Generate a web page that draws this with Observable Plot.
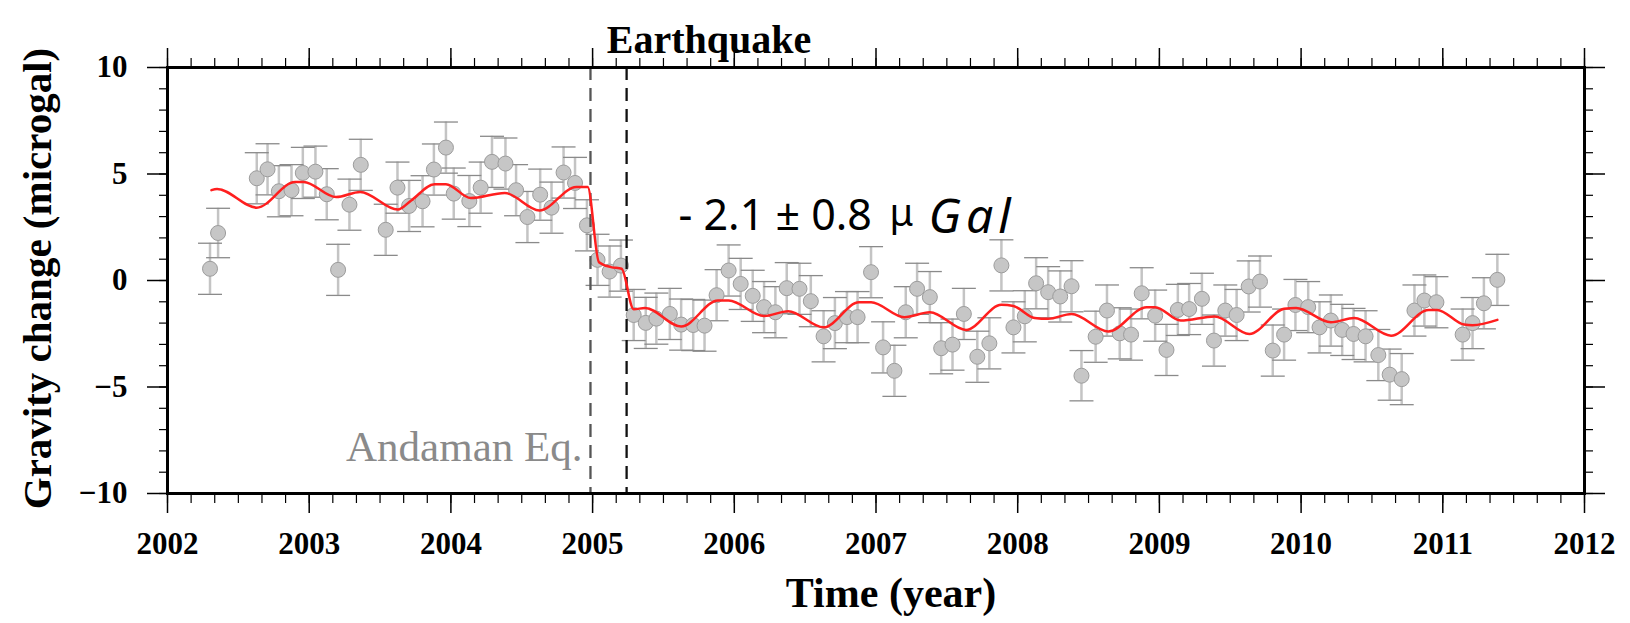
<!DOCTYPE html>
<html><head><meta charset="utf-8">
<script src="https://cdn.jsdelivr.net/npm/d3@7"></script>
<script src="https://cdn.jsdelivr.net/npm/@observablehq/plot@0.6"></script>
<style>body{margin:0;background:#fff}</style>
</head><body><div id="chart"></div>
<script>
const years = [2002.30, 2002.357, 2002.63, 2002.706, 2002.786, 2002.875, 2002.955, 2003.044, 2003.124, 2003.204,
  2003.284, 2003.364, 2003.54, 2003.623, 2003.705, 2003.80, 2003.88, 2003.965, 2004.02, 2004.13,
  2004.21, 2004.29, 2004.385, 2004.46, 2004.54, 2004.63, 2004.71, 2004.795, 2004.876, 2004.96,
  2005.035, 2005.12, 2005.20, 2005.29, 2005.375, 2005.45, 2005.545, 2005.625, 2005.71, 2005.79,
  2005.875, 2005.96, 2006.045, 2006.13, 2006.21, 2006.29, 2006.37, 2006.46, 2006.54, 2006.63,
  2006.71, 2006.795, 2006.87, 2006.965, 2007.05, 2007.13, 2007.21, 2007.29, 2007.38, 2007.46,
  2007.54, 2007.62, 2007.715, 2007.80, 2007.885, 2007.97, 2008.05, 2008.13, 2008.215, 2008.30,
  2008.38, 2008.45, 2008.55, 2008.63, 2008.72, 2008.80, 2008.875, 2008.97, 2009.05, 2009.13,
  2009.21, 2009.30, 2009.385, 2009.465, 2009.545, 2009.63, 2009.71, 2009.80, 2009.88, 2009.96,
  2010.05, 2010.13, 2010.21, 2010.29, 2010.37, 2010.455, 2010.545, 2010.625, 2010.71, 2010.80,
  2010.87, 2010.955, 2011.14, 2011.21, 2011.29, 2011.385];
const gravity = [0.55, 2.23, 4.8, 5.22, 4.19, 4.24, 5.05, 5.11, 4.05, 0.5,
  3.56, 5.43, 2.38, 4.36, 3.5, 3.72, 5.21, 6.24, 4.08, 3.73,
  4.36, 5.57, 5.49, 4.24, 2.98, 4.03, 3.42, 5.07, 4.58, 2.59,
  0.97, 0.42, 0.7, -1.62, -1.99, -1.79, -1.57, -2.07, -2.09, -2.12,
  -0.69, 0.47, -0.16, -0.72, -1.25, -1.49, -0.36, -0.39, -0.97, -2.62,
  -2.0, -1.72, -1.72, 0.39, -3.14, -4.24, -1.49, -0.39, -0.78, -3.18,
  -3.01, -1.57, -3.58, -2.95, 0.71, -2.2, -1.68, -0.13, -0.55, -0.75,
  -0.27, -4.47, -2.64, -1.41, -2.48, -2.54, -0.6, -1.65, -3.26, -1.38,
  -1.34, -0.86, -2.82, -1.41, -1.62, -0.28, -0.05, -3.29, -2.54, -1.15,
  -1.25, -2.2, -1.88, -2.32, -2.51, -2.62, -3.5, -4.42, -4.63, -1.41,
  -0.94, -1.02, -2.54, -2.0, -1.07, 0.03];
const errors = [1.2, 1.16, 1.2, 1.2, 1.2, 1.2, 1.2, 1.2, 1.2, 1.2,
  1.2, 1.2, 1.2, 1.2, 1.2, 1.2, 1.2, 1.2, 1.2, 1.2,
  1.2, 1.2, 1.2, 1.2, 1.2, 1.2, 1.2, 1.2, 1.2, 1.2,
  1.2, 1.2, 1.2, 1.2, 1.2, 1.2, 1.2, 1.2, 1.2, 1.2,
  1.2, 1.2, 1.2, 1.2, 1.2, 1.2, 1.2, 1.2, 1.2, 1.2,
  1.2, 1.2, 1.2, 1.2, 1.2, 1.2, 1.2, 1.2, 1.2, 1.2,
  1.2, 1.2, 1.2, 1.2, 1.2, 1.2, 1.2, 1.2, 1.2, 1.2,
  1.2, 1.18, 1.2, 1.2, 1.2, 1.2, 1.2, 1.2, 1.2, 1.2,
  1.2, 1.2, 1.2, 1.2, 1.2, 1.2, 1.2, 1.2, 1.2, 1.2,
  1.2, 1.2, 1.2, 1.2, 1.2, 1.2, 1.2, 1.2, 1.2, 1.2,
  1.2, 1.2, 1.2, 1.2, 1.2, 1.2];

const modelYears = [2002.31, 2002.35, 2002.63, 2002.90, 2002.96, 2003.19, 2003.36, 2003.625, 2003.72, 2003.885,
  2003.965, 2004.14, 2004.38, 2004.625, 2004.885, 2004.965, 2005.045, 2005.13, 2005.205, 2005.29,
  2005.37, 2005.625, 2005.885, 2005.96, 2006.21, 2006.38, 2006.63, 2006.88, 2006.965, 2007.20,
  2007.38, 2007.635, 2007.885, 2007.97, 2008.12, 2008.215, 2008.38, 2008.64, 2008.91, 2008.97,
  2009.15, 2009.39, 2009.635, 2009.88, 2009.965, 2010.21, 2010.375, 2010.635, 2010.90, 2010.96,
  2011.15, 2011.21, 2011.385];
const modelGravity = [4.24, 4.3, 3.42, 4.63, 4.63, 3.92, 4.16, 3.33, 3.76, 4.52,
  4.52, 3.87, 4.11, 3.29, 4.39, 4.39, 0.86, 0.63, 0.55, -1.35,
  -1.29, -2.16, -0.94, -0.94, -1.67, -1.44, -2.2, -1.02, -1.02, -1.72,
  -1.49, -2.32, -1.14, -1.2, -1.76, -1.8, -1.57, -2.39, -1.25, -1.25,
  -1.88, -1.69, -2.51, -1.33, -1.29, -1.96, -1.76, -2.59, -1.38, -1.38,
  -2.07, -2.1, -1.85];

const andamanYear = 2004.985;
const niasYear = 2005.24;
const yearTicks = [2002, 2003, 2004, 2005, 2006, 2007, 2008, 2009, 2010, 2011, 2012];
const minorYearTicks = d3.range(2002, 2012.0001, 1 / 6);
const gravityTicks = [-10, -5, 0, 5, 10];
const minorGravityTicks = d3.range(-10, 10.001, 1);

const data = years.map((x, i) => ({x, y: gravity[i], e: errors[i]}));
const model = modelYears.map((x, i) => ({x, y: modelGravity[i]}));

const capSymbol = {draw(ctx, size) { const w = Math.sqrt(size / Math.PI); ctx.moveTo(-w, 0); ctx.lineTo(w, 0); }};
const serif = "'Liberation Serif', 'Times New Roman', serif";
const sans = "'Noto Sans', 'DejaVu Sans', sans-serif";

const plot = Plot.plot({
  width: 1630, height: 623,
  marginLeft: 167, marginRight: 46, marginTop: 67, marginBottom: 130,
  x: {domain: [2002, 2012], label: null},
  y: {domain: [-10, 10], label: null},
  style: {fontFamily: serif, background: "white", color: "black"},
  marks: [
    Plot.ruleX(data, {x: "x", y1: d => d.y - d.e, y2: d => d.y + d.e, stroke: "#c4c4c4", strokeWidth: 2.5}),
    Plot.dot(data, {x: "x", y: d => d.y - d.e, symbol: capSymbol, r: 12, stroke: "#8a8a8a", strokeWidth: 1.3}),
    Plot.dot(data, {x: "x", y: d => d.y + d.e, symbol: capSymbol, r: 12, stroke: "#8a8a8a", strokeWidth: 1.3}),
    Plot.dot(data, {x: "x", y: "y", r: 7.5, fill: "#c6c6c6", stroke: "#9c9c9c", strokeWidth: 1}),
    Plot.ruleX([andamanYear], {x: d => d, stroke: "#555", strokeWidth: 2.3, strokeDasharray: "13,8"}),
    Plot.ruleX([niasYear], {x: d => d, stroke: "#111", strokeWidth: 2.3, strokeDasharray: "13,8"}),
    Plot.line(model, {x: "x", y: "y", stroke: "#ff1f1f", strokeWidth: 2.5, curve: "monotone-x"}),
    Plot.frame({stroke: "black", strokeWidth: 3}),
    Plot.axisY(gravityTicks, {anchor: "left", tickSize: 20, tickPadding: 20, fontSize: 31, fontWeight: "bold", strokeWidth: 1.5, label: null}),
    Plot.axisY(minorGravityTicks, {anchor: "left", tickSize: 8, fill: "none", strokeWidth: 1.2, label: null}),
    Plot.axisY(gravityTicks, {anchor: "right", tickSize: 20, fill: "none", strokeWidth: 1.5, label: null}),
    Plot.axisY(minorGravityTicks, {anchor: "right", tickSize: 8, fill: "none", strokeWidth: 1.2, label: null}),
    Plot.axisX(yearTicks, {anchor: "bottom", tickSize: 20, tickPadding: 18, fontSize: 31, fontWeight: "bold", tickFormat: "d", strokeWidth: 1.5, label: null}),
    Plot.axisX(minorYearTicks, {anchor: "bottom", tickSize: 10, fill: "none", strokeWidth: 1.2, label: null}),
    Plot.axisX(yearTicks, {anchor: "top", tickSize: 20, fill: "none", strokeWidth: 1.5, label: null}),
    Plot.axisX(minorYearTicks, {anchor: "top", tickSize: 10, fill: "none", strokeWidth: 1.2, label: null}),
    Plot.text(["Earthquake"], {text: d => d, frameAnchor: "top", textAnchor: "middle", dx: -167, dy: -43, fontSize: 40, fontWeight: "bold", fontFamily: serif}),
    Plot.text(["Gravity change (microgal)"], {text: d => d, frameAnchor: "left", textAnchor: "middle", lineAnchor: "middle", rotate: -90, dx: -130, dy: -2, fontSize: 41, fontWeight: "bold", fontFamily: serif}),
    Plot.text(["Time (year)"], {text: d => d, frameAnchor: "bottom", textAnchor: "middle", dx: 15, dy: 113, fontSize: 42, fontWeight: "bold", fontFamily: serif}),
    Plot.text(["Andaman Eq."], {text: d => d, frameAnchor: "bottom-left", textAnchor: "end", dx: 415, dy: -33, fontSize: 43, fill: "#8a8a8a", fontFamily: serif}),
    Plot.text(["- 2.1 \u00b1 0.8"], {text: d => d, frameAnchor: "top-left", textAnchor: "start", dx: 511, dy: 131.5, fontSize: 43, fontFamily: sans}),
    Plot.text(["\u03bc"], {text: d => d, frameAnchor: "top-left", textAnchor: "start", dx: 722, dy: 131.5, fontSize: 38, fontFamily: sans}),
    Plot.text(["Gal"], {text: d => d, frameAnchor: "top-left", textAnchor: "start", dx: 761, dy: 131.5, fontSize: 48, fontStyle: "italic", fontFamily: sans})
  ]
});
d3.select(plot).selectAll("text").filter(function() { return this.textContent === "Gal"; }).attr("letter-spacing", "5px");
document.getElementById("chart").appendChild(plot);
</script>
</body></html>
